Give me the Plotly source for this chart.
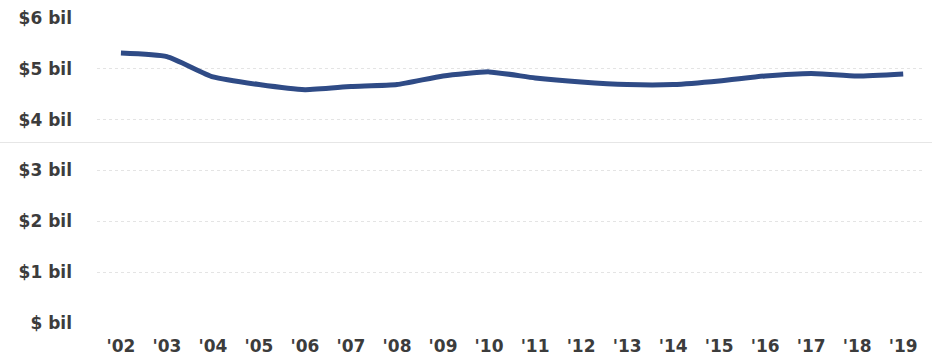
import plotly.graph_objects as go

# Annual totals, in billions of dollars
years = ["'02", "'03", "'04", "'05", "'06", "'07", "'08", "'09", "'10",
         "'11", "'12", "'13", "'14", "'15", "'16", "'17", "'18", "'19"]
values = [5.31, 5.24, 4.84, 4.69, 4.59, 4.65, 4.69, 4.86, 4.94,
          4.82, 4.74, 4.69, 4.69, 4.76, 4.86, 4.91, 4.86, 4.90]

y_ticks = [0, 1, 2, 3, 4, 5, 6]
y_labels = ["$ bil", "$1 bil", "$2 bil", "$3 bil", "$4 bil", "$5 bil", "$6 bil"]

x_pos = list(range(len(years)))

fig = go.Figure()
fig.add_trace(go.Scatter(
    x=x_pos, y=values, mode="lines",
    line=dict(color="#2f4b86", width=5, shape="spline", smoothing=0.5),
    hoverinfo="skip",
))

label_font = dict(family="DejaVu Sans, sans-serif", size=17,
                  color="#3c3c3c", weight="bold")

fig.update_layout(
    width=932, height=356,
    margin=dict(l=97, r=9, t=18, b=33),
    paper_bgcolor="white", plot_bgcolor="white",
    showlegend=False,
    xaxis=dict(
        range=[-0.52, 17.43],
        tickmode="array", tickvals=x_pos, ticktext=years,
        tickfont=label_font,
        showgrid=False, zeroline=False, showline=False,
        ticks="outside", ticklen=8, tickcolor="rgba(0,0,0,0)",
        automargin=False,
    ),
    yaxis=dict(
        range=[0, 6],
        tickmode="array", tickvals=y_ticks, ticktext=y_labels,
        tickfont=label_font,
        showgrid=True, gridcolor="#e4e4e4", gridwidth=1, griddash="dot",
        zeroline=False, showline=False,
        ticklabelstandoff=24,
        automargin=False,
    ),
    shapes=[dict(type="line", xref="paper", yref="y",
                 x0=-0.12, x1=1.02, y0=3.55, y1=3.55,
                 line=dict(color="#e6e6e6", width=1))],
)

fig.write_html("out.html")
